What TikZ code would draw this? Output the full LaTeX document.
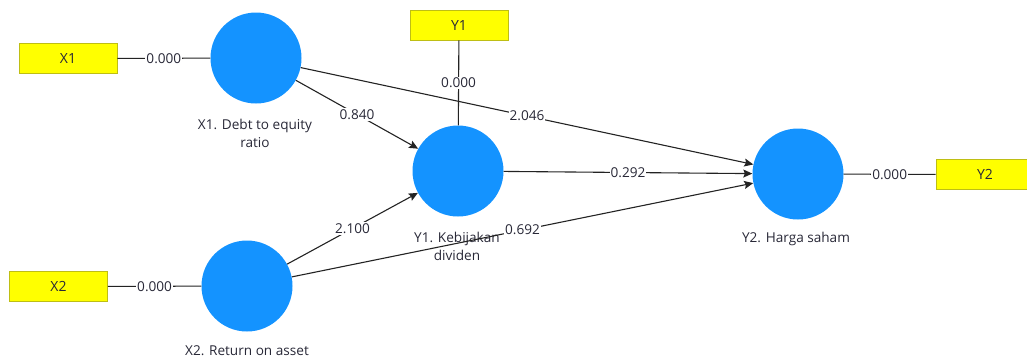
\documentclass[tikz,border=0pt]{standalone}
\usepackage{fontspec}
\setmainfont{Open Sans}
\usetikzlibrary{arrows.meta}
\definecolor{lv}{RGB}{20,147,255}
\definecolor{ind}{RGB}{255,255,0}
\definecolor{indb}{RGB}{190,190,20}
\definecolor{ln}{RGB}{35,35,35}
\definecolor{tx}{RGB}{40,40,55}
\tikzset{
  latent/.style={circle,fill=lv,draw=none,minimum size=91pt,inner sep=0pt},
  indic/.style={rectangle,fill=ind,draw=indb,line width=0.8pt,minimum width=98pt,minimum height=30pt,inner sep=0pt,font=\fontsize{14}{16}\selectfont,text=tx},
  lbl/.style={font=\fontsize{13.6}{18}\selectfont,text=tx,align=center},
  conn/.style={draw=ln,line width=1.1pt},
  path/.style={conn,-{Stealth[length=9pt,width=8pt,inset=1.5pt]}},
  val/.style={fill=white,inner sep=1pt,font=\fontsize{13.6}{15}\selectfont,text=tx}
}
\begin{document}
\begin{tikzpicture}[x=1pt,y=-1pt]
\useasboundingbox (0,0) rectangle (1027,360);
% latent variables
\node[latent] (x1) at (256,58) {};
\node[latent] (y1) at (458,171) {};
\node[latent] (y2) at (798,174) {};
\node[latent] (x2) at (247,286) {};
% indicators
\node[indic] (bx1) at (68,58.5) {X1};
\node[indic] (by1) at (459,25) {Y1};
\node[indic] (by2) at (985,174.5) {Y2};
\node[indic] (bx2) at (58.5,286.5) {X2};
% latent labels
\node[lbl] (lx1) at (255,133) {X1. Debt to equity\\ratio};
\node[lbl] (ly1) at (457,246) {Y1. Kebijakan\\dividen};
\node[lbl] (ly2) at (796,239) {Y2. Harga saham};
\node[lbl] (lx2) at (247,351) {X2. Return on asset};
% outer model
\draw[conn] (bx1) -- node[val] {0.000} (x1);
\draw[conn] (by1) -- node[val] {0.000} (y1);
\draw[conn] (y2) -- node[val] {0.000} (by2);
\draw[conn] (bx2) -- node[val] {0.000} (x2);
% inner model
\draw[path] (x1) -- node[val] {0.840} (y1);
\draw[path] (x1) -- node[val] {2.046} (y2);
\draw[path] (y1) -- node[val] {0.292} (y2);
\draw[path] (x2) -- node[val] {2.100} (y1);
\draw[path] (x2) -- node[val] {0.692} (y2);
\end{tikzpicture}
\end{document}
